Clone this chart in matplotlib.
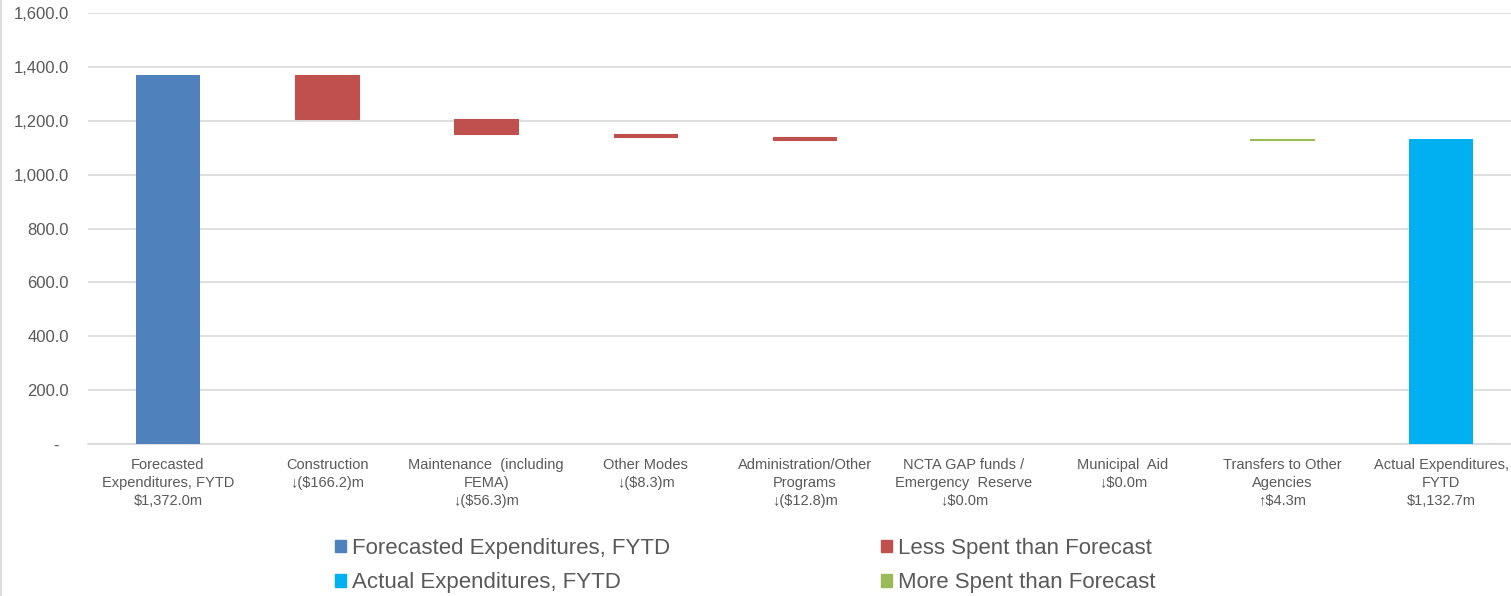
import matplotlib.pyplot as plt
from matplotlib.lines import Line2D
from matplotlib.patches import Patch
from matplotlib.ticker import FuncFormatter
import numpy as np

plt.rcParams['font.family'] = ['Liberation Sans', 'DejaVu Sans']

# category labels and values ($m)
categories = [
    "Forecasted\nExpenditures, FYTD\n$1,372.0m",
    "Construction\n\u2193($166.2)m",
    "Maintenance  (including\nFEMA)\n\u2193($56.3)m",
    "Other Modes\n\u2193($8.3)m",
    "Administration/Other\nPrograms\n\u2193($12.8)m",
    "NCTA GAP funds /\nEmergency  Reserve\n\u2193$0.0m",
    "Municipal  Aid\n\u2193$0.0m",
    "Transfers to Other\nAgencies\n\u2191$4.3m",
    "Actual Expenditures,\nFYTD\n$1,132.7m",
]
forecast_total = 1372.0
changes = [-166.2, -56.3, -8.3, -12.8, 0.0, 0.0, 4.3]
actual_total = 1132.7

c_forecast = '#4F81BD'
c_less = '#C0504D'
c_more = '#9BBB59'
c_actual = '#00B0F0'
txt_col = '#595959'

fig = plt.figure(figsize=(15.11, 5.96), dpi=100)
ax = fig.add_axes([0.0585, 0.255, 0.948, 0.723])

x = np.arange(len(categories))
w = 0.4

# start and end totals
ax.bar(x[0], forecast_total, width=w, color=c_forecast, zorder=3)
ax.bar(x[-1], actual_total, width=w, color=c_actual, zorder=3)

# floating change bars (skip the zero ones)
running = forecast_total
for i, ch in enumerate(changes):
    new = running + ch
    if ch != 0:
        col = c_less if ch < 0 else c_more
        ax.bar(x[i + 1], abs(ch), bottom=min(running, new), width=w,
               color=col, edgecolor=col, linewidth=0.8, zorder=3)
    running = new

ax.set_xlim(-0.5, len(categories) - 0.5)
ax.set_ylim(0, 1600)
ax.set_yticks(np.arange(0, 1601, 200))
ax.yaxis.set_major_formatter(FuncFormatter(lambda v, p: '-  ' if v == 0 else f'{v:,.1f}'))
ax.grid(axis='y', color='#D9D9D9', linewidth=1.2, zorder=0)
for s in ['top', 'right', 'left']:
    ax.spines[s].set_visible(False)
ax.spines['bottom'].set_color('#D9D9D9')
ax.spines['bottom'].set_linewidth(1.2)
ax.tick_params(axis='y', length=0, pad=14, labelsize=12, labelcolor=txt_col)
ax.tick_params(axis='x', length=0, pad=10, labelsize=10.5, labelcolor=txt_col)
ax.set_xticks(x)
ax.set_xticklabels(categories, linespacing=1.35)

handles = [
    Patch(color=c_forecast, label='Forecasted Expenditures, FYTD'),
    Patch(color=c_actual, label='Actual Expenditures, FYTD'),
    Patch(color=c_less, label='Less Spent than Forecast'),
    Patch(color=c_more, label='More Spent than Forecast'),
]
leg = fig.legend(handles=handles, ncol=2, loc='upper left', bbox_to_anchor=(335 / 1511, 1 - 538 / 596),
                 frameon=False, fontsize=16, handlelength=0.5, handleheight=0.5,
                 handletextpad=0.25, columnspacing=9.5, labelspacing=0.6,
                 borderaxespad=0, borderpad=0)
for t in leg.get_texts():
    t.set_color(txt_col)

# chart border at left
fig.add_artist(Line2D([0.0007, 0.0007], [0, 1], color='#D9D9D9', linewidth=1.2, transform=fig.transFigure))

fig.savefig('out.png', dpi=100)
